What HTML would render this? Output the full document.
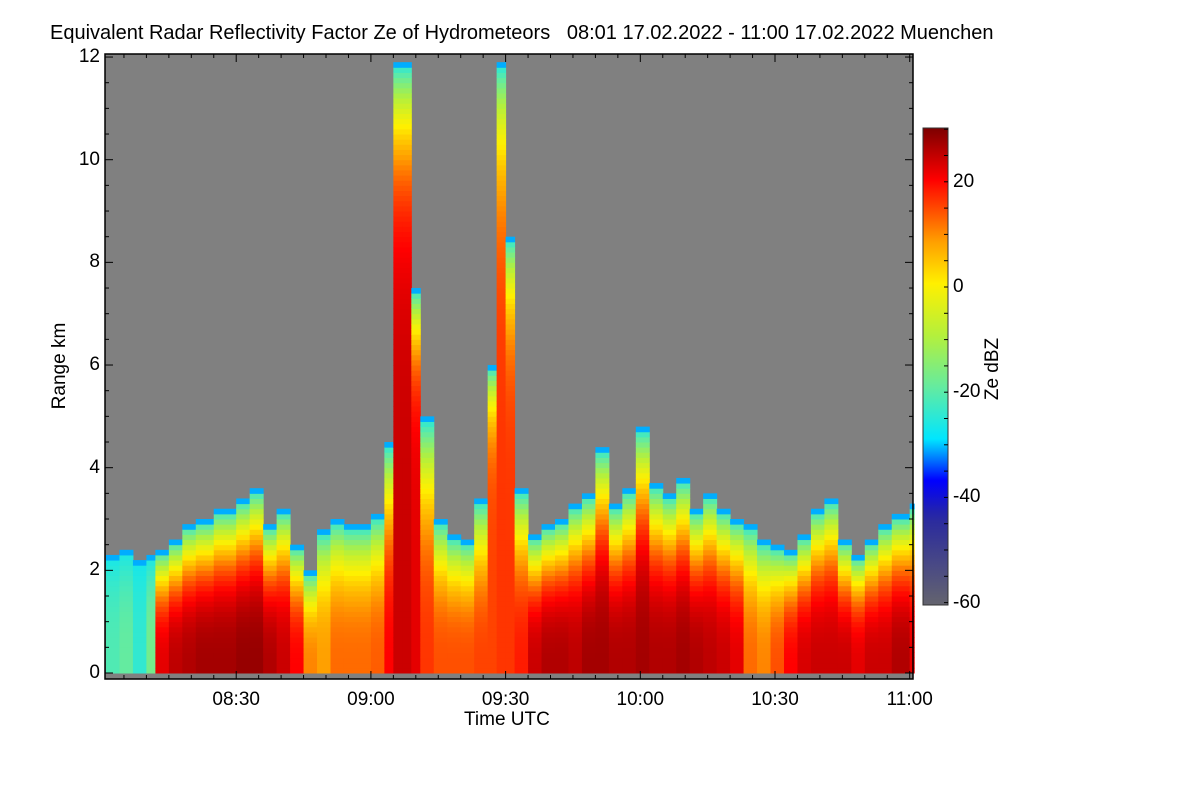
<!DOCTYPE html>
<html><head><meta charset="utf-8"><style>
body{margin:0;background:#fff;width:1200px;height:800px;overflow:hidden;font-family:"Liberation Sans",sans-serif;}
#wrap{position:relative;width:1200px;height:800px;}
.t{position:absolute;font-size:19px;color:#000;white-space:nowrap;}
</style></head><body>
<div id="wrap">
<svg id="svg" width="1200" height="800" style="position:absolute;left:0;top:0">
<defs><linearGradient id="cbg" x1="0" y1="1" x2="0" y2="0"></linearGradient></defs>
<rect x="105" y="54" width="808" height="625" fill="#808080"/>
<g id="cells"></g>
<rect x="105" y="54" width="808" height="625" fill="none" stroke="#000" stroke-width="1.5"/>
<g id="ticks"></g>
<rect x="923" y="128" width="25" height="477" fill="url(#cbg)" stroke="#333"/>
<g id="cbticks"></g>
</svg>
<div class="t" style="left:50px;top:22px;font-size:20px">Equivalent Radar Reflectivity Factor Ze of Hydrometeors &nbsp; 08:01 17.02.2022 - 11:00 17.02.2022 Muenchen</div>
<div class="t" style="left:464px;top:709px">Time UTC</div>
<div class="t" style="left:15px;top:355px;transform:rotate(-90deg);transform-origin:center;width:90px;text-align:center">Range km</div>
<div class="t" style="left:958px;top:358px;transform:rotate(-90deg);width:70px;text-align:center">Ze dBZ</div>
<div id="labels"></div>
</div>
<script>
const times=[0,3,6,9,11,14,17,20,24,29,32,35,38,41,44,47,50,53,56,59,62,64,66,68,70,73,76,79,82,85,87,89,91,94,97,100,103,106,109,112,115,118,121,124,127,130,133,136,139,142,145,148,151,154,157,160,163,166,169,172,175,179];
const tops=[2.3,2.4,2.2,2.3,2.4,2.6,2.9,3.0,3.2,3.4,3.6,2.9,3.2,2.5,2.0,2.8,3.0,2.9,2.9,3.1,4.5,11.9,11.9,7.5,5.0,3.0,2.7,2.6,3.4,6.0,11.9,8.5,3.6,2.7,2.9,3.0,3.3,3.5,4.4,3.3,3.6,4.8,3.7,3.5,3.8,3.2,3.5,3.2,3.0,2.9,2.6,2.5,2.4,2.7,3.2,3.4,2.6,2.3,2.6,2.9,3.1,3.3];
const base=[-22,-20,-25,-18,22,25,26,27,27,28,28,26,24,20,10,8,12,12,12,13,20,24,24,22,16,14,14,14,15,15,16,16,18,24,26,26,25,27,27,26,26,27,26,26,27,26,25,24,22,12,10,14,20,23,24,24,24,22,24,24,26,22];
const yTicks=[0,2,4,6,8,10,12];
const xTickLabels=["08:30","09:00","09:30","10:00","10:30","11:00"];
const cbTicks=[20,0,-20,-40,-60];
const X=m=>106+m*4.49, Y=k=>673-k*51.33, CB=d=>287-d*5.26;
const stops=[[-62,[100,100,110]],[-45,[40,40,160]],[-38,[0,0,255]],[-30,[0,230,255]],[-20,[100,235,160]],[-10,[180,240,60]],[0,[255,240,0]],[8,[255,160,0]],[14,[255,80,0]],[20,[255,0,0]],[30,[125,0,0]]];
function col(d){d=Math.max(-62,Math.min(30,d));for(let i=1;i<stops.length;i++){if(d<=stops[i][0]){const a=stops[i-1],b=stops[i],f=(d-a[0])/(b[0]-a[0]);return 'rgb('+a[1].map((v,j)=>Math.round(v+(b[1][j]-v)*f)).join(',')+')';}}return 'rgb(125,0,0)';}
const NS='http://www.w3.org/2000/svg';
const cells=document.getElementById('cells');
for(let i=0;i<times.length;i++){
 const t0=times[i], t1=i<times.length-1?times[i+1]:180;
 const top=tops[i], b=base[i];
 const p=top>5?7:3;
 const n=Math.ceil(top/0.1);
 for(let k=0;k<n;k++){
  const h0=k*0.1, h1=Math.min(top,h0+0.1), f=(h0+0.05)/top;
  let d=b-(b+28)*Math.pow(f,p); if(top-h0<0.15)d=-32;
  const r=document.createElementNS(NS,'rect');
  r.setAttribute('x',X(t0));r.setAttribute('width',X(t1)-X(t0)+0.5);
  r.setAttribute('y',Y(h1));r.setAttribute('height',Y(h0)-Y(h1)+0.5);
  r.setAttribute('fill',col(d));
  
  
  cells.appendChild(r);
 }
}
const g=document.getElementById('cbg');
for(let d=-62;d<=30;d+=2){const s=document.createElementNS(NS,'stop');s.setAttribute('offset',((d+62)/92).toFixed(3));s.setAttribute('stop-color',col(d));g.appendChild(s);}
const tk=document.getElementById('ticks'), lab=document.getElementById('labels');
function line(p,x1,y1,x2,y2){const l=document.createElementNS(NS,'line');l.setAttribute('x1',x1);l.setAttribute('y1',y1);l.setAttribute('x2',x2);l.setAttribute('y2',y2);l.setAttribute('stroke','#000');


p.appendChild(l);}
function label(txt,x,y,name,align){const d=document.createElement('div');d.className='t';d.textContent=txt;d.style.top=(y-11)+'px';
if(align==='r'){d.style.left=(x-60)+'px';d.style.width='60px';d.style.textAlign='right';}else if(align==='c'){d.style.left=(x-40)+'px';d.style.width='80px';d.style.textAlign='center';}else d.style.left=x+'px';


lab.appendChild(d);}
for(let k=0;k<=12;k+=0.5){const y=Y(k),L=(k%2===0)?8:4;line(tk,105,y,105+L,y);line(tk,913,y,913-L,y);}
yTicks.forEach(k=>label(String(k),100,Y(k),'y-tick-label','r'));
for(let m=-1;m<=180;m+=5){const x=X(m);if(x<105||x>913)continue;const L=((m+1)%30===0)?8:4;line(tk,x,679,x,679-L);line(tk,x,54,x,54+L);}
xTickLabels.forEach((s,i)=>label(s,X(29+30*i),700,'x-tick-label','c'));
const cbt=document.getElementById('cbticks');
for(let d=-60;d<=30;d+=5){const y=CB(d);if(y<128||y>605)continue;line(cbt,948,y,944,y);}
cbTicks.forEach(d=>label(String(d),953,CB(d),'colorbar-tick-label','l'));
</script>
</body></html>
